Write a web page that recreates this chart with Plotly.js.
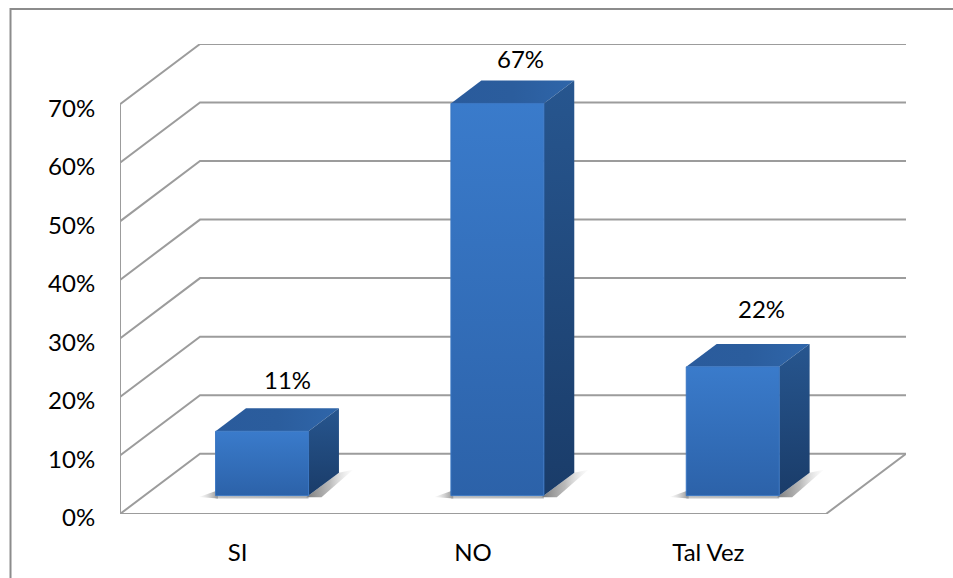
<!DOCTYPE html>
<html>
<head>
<meta charset="utf-8">
<script src="https://cdn.plot.ly/plotly-3.0.1.min.js"></script>
<style>html,body{margin:0;padding:0;background:#fff}#chart{width:953px;height:578px}</style>
</head>
<body>
<div id="chart"></div>
<script>
// Survey result shares, in percent
const categories = ['SI', 'NO', 'Tal Vez'];
const shares = [11, 67, 22];
const axisTicks = [0, 10, 20, 30, 40, 50, 60, 70];

// Oblique projection of the floor depth, in axis units
const DEPTH_X = 0.34;
const DEPTH_Y = 10.3;
// Bar footprint: width along the category axis, start and end along the depth
const BAR_W = 0.395;
const BAR_D0 = 0.305;
const BAR_D1 = 0.685;
// Pixel nudges for the value labels, per bar
const labelNudgeX = [10, 8, 14];
const labelNudgeY = [29, 22, 35];

const FONT = {family: 'Lato, Carlito, sans-serif', size: 24, color: '#000000'};
const WALL = '#9c9c9c';
const traces = [];

function wallLine(xs, ys) {
  traces.push({type: 'scatter', mode: 'lines', x: xs, y: ys, cliponaxis: false, hoverinfo: 'skip',
    line: {color: WALL, width: 2}, showlegend: false});
}
function face(xs, ys, stops, orientation, edge) {
  const scale = stops.map((c, k) => [k / (stops.length - 1), c]);
  traces.push({type: 'scatter', mode: 'lines', x: xs.concat(xs[0]), y: ys.concat(ys[0]),
    fill: 'toself', cliponaxis: false, hoverinfo: 'skip', showlegend: false,
    fillgradient: {type: orientation, colorscale: scale},
    line: {color: edge || 'rgba(0,0,0,0)', width: edge ? 1 : 0}});
}

// Side wall and back wall rules, one per tick
const L = -0.5, R = categories.length - 0.5;
axisTicks.forEach(v => wallLine([L, L + DEPTH_X, R + DEPTH_X], [v, v + DEPTH_Y, v + DEPTH_Y]));
wallLine([L, L], [0, axisTicks[axisTicks.length - 1]]);
wallLine([L, R, R + DEPTH_X], [0, 0, DEPTH_Y]);

// Each bar is an extruded box resting on the floor
shares.forEach((v, i) => {
  const x0 = i - BAR_W / 2 + BAR_D0 * DEPTH_X, x1 = x0 + BAR_W;
  const y0 = BAR_D0 * DEPTH_Y, y1 = y0 + v;
  const dx = (BAR_D1 - BAR_D0) * DEPTH_X, dy = (BAR_D1 - BAR_D0) * DEPTH_Y;

  // soft contact shadow on the floor
  face([x1 - 0.01, x1 + dx, x1 + dx + 0.06, x1 + 0.055], [y0 - 0.3, y0 + dy, y0 + dy + 0.5, y0 - 0.3],
    ['rgba(100,100,100,0.85)', 'rgba(140,140,140,0.6)', 'rgba(205,205,205,0.05)'], 'horizontal');
  face([x0 - 0.07, x0 + 0.01, x0 + 0.01], [y0 - 0.25, y0 + 0.9, y0 - 0.5],
    ['rgba(200,200,200,0.1)', 'rgba(110,110,110,0.75)'], 'horizontal');
  face([x0, x1, x1, x0], [y0 - 0.5, y0 - 0.5, y0, y0],
    ['rgba(160,160,160,0.6)', 'rgba(130,130,130,0.6)'], 'horizontal');

  face([x0, x1, x1 + dx, x0 + dx], [y1, y1, y1 + dy, y1 + dy], ['#2a5b9c', '#2b5d9d', '#2f66aa'], 'horizontal');
  face([x1, x1 + dx, x1 + dx, x1], [y0, y0 + dy, y1 + dy, y1], ['#1a3c69', '#27568f'], 'vertical');
  face([x0, x1, x1, x0], [y0, y0, y1, y1], ['#2c62a9', '#3a7bcb'], 'vertical', '#3a76c2');
});

// Value labels sit above the back edge of each box
const annotations = shares.map((v, i) => ({
  x: i + (BAR_D0 + BAR_D1) / 2 * DEPTH_X,
  y: BAR_D1 * DEPTH_Y + v, xref: 'x', yref: 'y', text: v + '%', showarrow: false,
  xshift: labelNudgeX[i], yshift: labelNudgeY[i], yanchor: 'middle', font: FONT
}));

const layout = {
  width: 953, height: 578,
  margin: {l: 120, r: 47, t: 44, b: 64, pad: 0},
  paper_bgcolor: '#ffffff', plot_bgcolor: 'rgba(0,0,0,0)',
  showlegend: false, hovermode: false,
  xaxis: {range: [L, L + 786 / 235.33], tickvals: categories.map((_, i) => i), ticktext: categories,
    showgrid: false, zeroline: false, showline: false, ticks: 'outside', ticklen: 17,
    tickcolor: 'rgba(0,0,0,0)', tickfont: FONT},
  yaxis: {range: [0, 80.3], tickvals: axisTicks, ticktext: axisTicks.map(t => t + '%'),
    showgrid: false, zeroline: false, showline: false, ticks: 'outside', ticklen: 19,
    tickcolor: 'rgba(0,0,0,0)', tickfont: FONT, ticklabelshift: 4},
  annotations: annotations,
  // Outer chart border, open towards the right and bottom page edges
  shapes: [{type: 'path', xref: 'paper', yref: 'paper', layer: 'below',
    path: 'M -0.1393 -0.14 L -0.1393 1.0745 L 1.06 1.0745',
    line: {color: '#8c8c8c', width: 2}}]
};

Plotly.newPlot('chart', traces, layout, {displayModeBar: false, staticPlot: true});
</script>
</body>
</html>
